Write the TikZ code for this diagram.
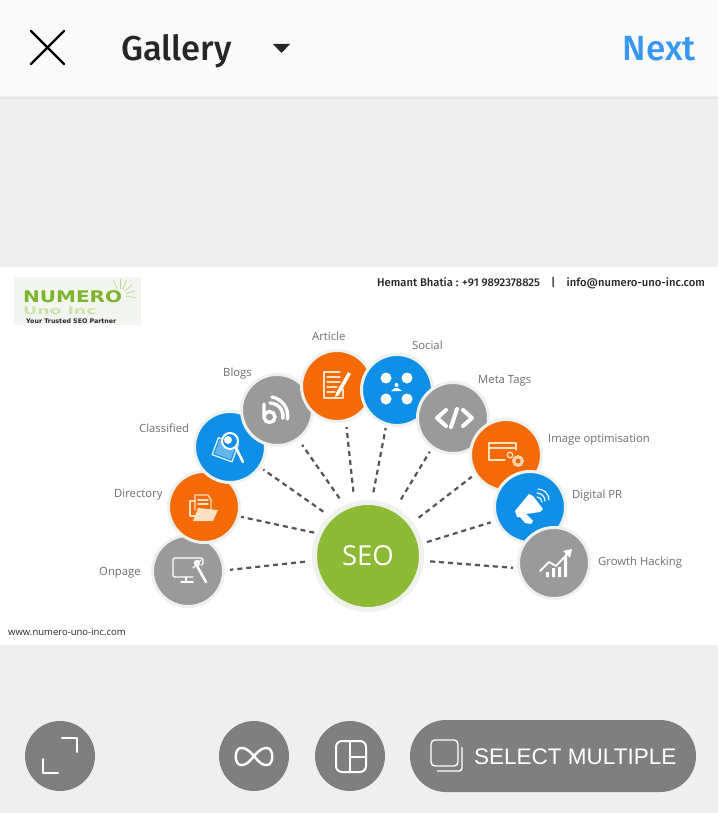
\documentclass[tikz,border=0pt]{standalone}
\usepackage{fontspec}
\setmainfont{Open Sans}
\newfontfamily\uifont{Liberation Sans}
\newfontfamily\uibold{Fira Sans Medium}
\newfontfamily\logofont{DejaVu Sans}
\definecolor{pageg}{HTML}{EFEFEF}
\definecolor{barw}{HTML}{FAFAFA}
\definecolor{shade}{HTML}{D8D8D8}
\definecolor{btn}{HTML}{7F7F7F}
\definecolor{ink}{HTML}{262626}
\definecolor{nextb}{HTML}{3897F0}
\definecolor{orng}{HTML}{F46A06}
\definecolor{blu}{HTML}{0F8FE6}
\definecolor{gry}{HTML}{9A9A9A}
\definecolor{grn}{HTML}{8CBA35}
\definecolor{ringc}{HTML}{EEF1EC}
\definecolor{labelc}{HTML}{6E6E6E}
\definecolor{dashc}{HTML}{555555}
\definecolor{logog}{HTML}{7DB52A}
\definecolor{logop}{HTML}{CBE3A6}
\definecolor{logobg}{HTML}{F3F5F1}
\definecolor{paleor}{HTML}{FCE0C4}
\tikzset{
  x=1pt,y=-1pt,
  bub/.style={circle,draw=ringc,line width=3pt,minimum size=71pt,inner sep=0pt,fill=#1},
  hub/.style={circle,draw=ringc,line width=5pt,minimum size=107pt,inner sep=0pt,fill=grn,text=white,font=\fontsize{27.5}{28}\selectfont},
  lab/.style={anchor=base west,inner sep=0pt,text=labelc,font=\fontsize{11.3}{12}\selectfont},
  dashline/.style={draw=dashc,line width=2.2pt,dash pattern=on 5pt off 4pt},
  ico/.style={draw=white,line width=1.4pt,line cap=round,line join=round},
  uiicon/.style={draw=white,line width=2pt,line cap=round,line join=round},
  btnc/.style={circle,fill=btn,minimum size=70pt,inner sep=0pt},
}
\newcommand\conn[5]{\draw[dashline,shorten <=#2pt,shorten >=#5pt] (seo.#1) -- (#3.#4);}
\begin{document}
\begin{tikzpicture}
\useasboundingbox (0,0) rectangle (718,813);
\fill[pageg] (0,0) rectangle (718,813);
\shade[top color=pageg,bottom color=shade] (0,96) rectangle (718,99);
\fill[barw] (0,0) rectangle (718,96);
\fill[white] (0,267) rectangle (718,645);
% top bar
\draw[line width=2.2pt,line cap=round,black] (31,31) -- (64,64) (64,31) -- (31,64);
\node[anchor=base west,inner sep=0pt,text=ink,font=\uibold\fontsize{34.5}{35}\selectfont] (gallery) at (121,61) {Gallery};
\fill[ink] (273,44) -- (290,44) -- (281.5,53) -- cycle;
\node[anchor=base east,inner sep=0pt,text=nextb,font=\uibold\fontsize{35}{35}\selectfont] (next) at (696,61) {Next};
% logo
\fill[logobg] (14,277) rectangle (141,325);
\foreach \a in {-10,15,40,65,90,115} \draw[logop!80!logog,line width=.7pt] (120,295) ++(-\a:6) -- ++(-\a:10);
\node[anchor=base west,inner sep=0pt,text=logog,font=\logofont\bfseries\fontsize{16}{16}\selectfont] (logo) at (23,302) {\scalebox{1.25}[1]{NUMERO}};
\node[anchor=base west,inner sep=0pt,text=logop,font=\logofont\bfseries\fontsize{10.5}{11}\selectfont] (logob) at (23,314) {\scalebox{1.65}[1]{Uno Inc}};
\node[anchor=base west,inner sep=0pt,text=ink,font=\logofont\bfseries\fontsize{6.3}{7}\selectfont] (tag) at (26,323) {Your Trusted SEO Partner};
% header
\node[anchor=base west,inner sep=0pt,text=ink,font=\uibold\fontsize{11.2}{12}\selectfont] (contact) at (377,286) {Hemant Bhatia : +91 9892378825\quad |\quad info@numero-uno-inc.com};
\node[anchor=base west,inner sep=0pt,text=ink,font=\fontsize{9.5}{10}\selectfont] (web) at (8,635) {www.numero-uno-inc.com};
% nodes
\node[bub=gry] (onpage) at (188,571) {};
\node[bub=orng] (directory) at (204,507) {};
\node[bub=blu] (classified) at (230,447) {};
\node[bub=gry] (blogs) at (277,410) {};
\node[bub=orng] (article) at (337,386) {};
\node[bub=blu] (social) at (397,390) {};
\node[bub=gry] (meta) at (453,418) {};
\node[bub=orng] (image) at (506,455) {};
\node[bub=blu] (digital) at (530,507) {};
\node[bub=gry] (growth) at (554,563) {};
\node[hub] (seo) at (368,556) {SEO};
% connectors
\conn{185.4}{7.3}{onpage}{1.4}{5}
\conn{156.9}{2.7}{directory}{-15.1}{1.3}
\conn{134.4}{7}{classified}{-34.9}{3.2}
\conn{115.8}{8.4}{blogs}{-54.5}{6}
\conn{104.9}{10}{article}{-76.3}{5.2}
\conn{86.4}{8}{social}{253.9}{2.6}
\conn{60.7}{9.4}{meta}{235.9}{4}
\conn{37.9}{7.4}{image}{212.9}{3.5}
\conn{13.3}{4.6}{digital}{202.3}{5.2}
\conn{-5.5}{6.3}{growth}{188.3}{4.4}
% labels
\node[lab] (l1) at (99,575) {Onpage};
\node[lab] (l2) at (114,497) {Directory};
\node[lab] (l3) at (139,432) {Classified};
\node[lab] (l4) at (223,376) {Blogs};
\node[lab] (l5) at (312,340) {Article};
\node[lab] (l6) at (412,349) {Social};
\node[lab] (l7) at (478,383) {Meta Tags};
\node[lab] (l8) at (548,442) {Image optimisation};
\node[lab] (l9) at (572,498) {Digital PR};
\node[lab] (l10) at (598,565) {Growth Hacking};
% icons: Onpage
\begin{scope}[ico]
\draw[rounded corners=1.5pt] (201,565) -- (203,565) -- (203,558) -- (173,558) -- (173,577) -- (193,577);
\draw (181,582) -- (193,582) (186,577) -- (186,582);
\draw[line width=2.6pt] (197,566) -- (206,582);
\draw[line width=1.3pt] (201,560) -- (193,568);
\end{scope}
\fill[white] (197,563) circle (3.2pt);
% Directory
\begin{scope}[ico,draw=paleor]
\draw (196,516) -- (190,516) -- (190,501) -- (195,501);
\draw (195,510) -- (195,495) -- (208,495) -- (211,500) -- (211,509);
\draw (198,500) -- (208,500) (198,504) -- (208,504);
\end{scope}
\fill[paleor] (198,508) -- (218,510) -- (213,521) -- (193,521) -- cycle;
% Classified
\draw[ico,draw=white!85!blu,rotate around={-20:(226,449)}] (215,441) rectangle (236,459);
\fill[white!35!blu,rotate around={-20:(226,449)}] (217,443) rectangle (234,457);
\fill[blu] (230,441) circle (9pt);
\draw[ico,line width=2pt] (230,441) circle (8pt);
\fill[white] (228,440) circle (4pt);
\draw[ico,line width=2.5pt] (236,448) -- (243,462);
% Blogs
\begin{scope}[draw=white,line width=3.4pt,line cap=round]
\draw (264,404) -- (264,417) arc[start angle=180,end angle=540,radius=5.5pt];
\draw (270,403) arc[start angle=90,end angle=-10,radius=13pt];
\draw (272,397) arc[start angle=80,end angle=-10,radius=19pt];
\end{scope}
% Article
\begin{scope}[ico,draw=paleor,line width=1.2pt]
\draw (340,372) -- (324,372) -- (324,398) -- (343,398) -- (343,389);
\draw (327,377) -- (340,377) (327,382) -- (340,382) (327,387) -- (337,387) (327,392) -- (335,392);
\end{scope}
\fill[white] (348,372) -- (351,374) -- (339,395) -- (335,397) -- (336,393) -- cycle;
% Social
\fill[white] (386,378) circle (5.5pt) (407,378) circle (5.5pt) (386,399) circle (5.5pt) (407,399) circle (5.5pt);
\fill[white] (396.5,385) circle (2pt);
\fill[white] (391,391) -- (402,391) -- (398,388) -- (395,388) -- cycle;
% Meta
\begin{scope}[draw=white,line width=4pt,line cap=round,line join=round]
\draw (446,410) -- (437,418) -- (446,426);
\draw (457,409) -- (451,427);
\draw (463,410) -- (472,418) -- (463,426);
\end{scope}
% Image
\begin{scope}[ico,draw=paleor,line width=1.3pt]
\draw (505,460) -- (489,460) -- (489,443) -- (516,443) -- (516,450);
\draw (489,448) -- (516,448);
\draw (510,455) circle (2.8pt);
\draw (518,461) circle (3.5pt);
\draw[dash pattern=on 1.2pt off 1.2pt,line width=1.6pt] (518,461) circle (5.2pt);
\end{scope}
% Digital PR
\fill[white] (515,511) -- (529,494) -- (533,496) -- (543,509) -- (540,512) -- (526,514) -- (533,521) -- (531,524) -- (525,523) -- (520,517) -- (517,517) -- cycle;
\begin{scope}[ico,line width=1.1pt]
\draw (537,497) arc[start angle=90,end angle=0,radius=5pt];
\draw (537,493) arc[start angle=90,end angle=0,radius=8pt];
\draw (538,489) arc[start angle=90,end angle=0,radius=11pt];
\end{scope}
% Growth
\fill[white] (546,572) rectangle (549,577) (552,568) rectangle (555,577) (558,567) rectangle (561,577) (564,556) rectangle (567,577);
\draw[ico,line width=1.8pt] (540,571) -- (549,562) -- (556,566) -- (569,552);
\fill[white] (572,549) -- (570,558) -- (563,551) -- cycle;
% bottom buttons
\node[btnc] (expand) at (60,756) {};
\node[btnc] (loop) at (254,756) {};
\node[btnc] (layout) at (350,756) {};
\node[draw=none,fill=btn,rounded corners=36pt,minimum width=286pt,minimum height=72pt,inner sep=0pt] (multi) at (553,756) {};
\draw[uiicon] (62,738) -- (77,738) -- (77,752);
\draw[uiicon] (43,759) -- (43,773) -- (58,773);
\draw[uiicon,line width=2.4pt] (254,756) .. controls (247,748) and (244,748) .. (241,748) .. controls (234,748) and (234,765) .. (241,765) .. controls (244,765) and (247,765) .. (254,756) .. controls (261,748) and (264,748) .. (267,748) .. controls (274,748) and (274,765) .. (267,765) .. controls (264,765) and (261,765) .. (254,756) -- cycle;
\draw[uiicon,rounded corners=6pt] (336,741) rectangle (366,772);
\draw[uiicon] (350,741) -- (350,772) (350,757) -- (366,757);
\draw[white,line width=1.4pt,rounded corners=4pt] (431,740) rectangle (458,766);
\draw[white,line width=1.4pt,rounded corners=3pt] (437,771) -- (462,771) -- (462,747);
\node[anchor=base west,inner sep=0pt,text=white,font=\uifont\fontsize{22.5}{23}\selectfont] (multitext) at (474,764) {SELECT MULTIPLE};
\end{tikzpicture}
\end{document}
